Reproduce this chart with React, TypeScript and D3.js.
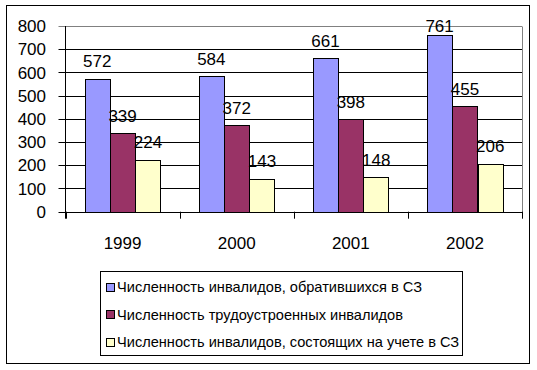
import React from "react";
import * as d3 from "d3";

const categories = ["1999", "2000", "2001", "2002"];
const seriesNames = [
  "Численность инвалидов, обратившихся в СЗ",
  "Численность трудоустроенных инвалидов",
  "Численность инвалидов, состоящих на учете в СЗ",
];
const seriesA = [572, 584, 661, 761];
const seriesB = [339, 372, 398, 455];
const seriesC = [224, 143, 148, 206];
const yTicks = [0, 100, 200, 300, 400, 500, 600, 700, 800];
const colors = ["#9999FF", "#993366", "#FFFFCC"];

const W = 537;
const H = 370;
const plot = { left: 65.5, right: 522, top: 26, bottom: 211.7 };
const FONT = "Arial, 'Liberation Sans', sans-serif";

export default function App() {
  const series = [seriesA, seriesB, seriesC];
  const x0 = d3
    .scaleBand<string>()
    .domain(categories)
    .range([plot.left, plot.right])
    .paddingInner(0)
    .paddingOuter(0);
  const bw = x0.bandwidth() / 4.5;
  const y = d3.scaleLinear().domain([0, 800]).range([plot.bottom, plot.top]);

  return (
    <svg
      width={W}
      height={H}
      style={{ position: "absolute", left: 0, top: 0, background: "#fff" }}
      fontFamily={FONT}
    >
      <rect x={6.5} y={5.5} width={523} height={358} fill="#fff" stroke="#000" strokeWidth={1} />
      {yTicks.map((t) => (
        <line
          key={"g" + t}
          x1={plot.left - 7}
          x2={plot.right}
          y1={Math.round(y(t)) + 0.5}
          y2={Math.round(y(t)) + 0.5}
          stroke={t === 800 ? "#808080" : "#000"}
          strokeWidth={1}
        />
      ))}
      <line x1={plot.right + 0.5} x2={plot.right + 0.5} y1={Math.round(y(800)) + 0.5} y2={Math.round(y(0)) + 0.5} stroke="#808080" />
      {yTicks.map((t) => (
        <text key={"yl" + t} x={46} y={y(t)} dy="0.36em" textAnchor="end" fontSize={17} fill="#000">
          {t}
        </text>
      ))}
      {categories.map((c, i) =>
        series.map((s, k) => {
          const bx = (x0(c) as number) + 0.75 * bw + k * bw;
          const by = y(s[i]);
          return (
            <rect
              key={c + k}
              x={Math.round(bx) + 0.5}
              y={Math.round(by) + 0.5}
              width={Math.round(bw)}
              height={Math.round(y(0)) - Math.round(by)}
              fill={colors[k]}
              stroke="#000"
              strokeWidth={1}
            />
          );
        })
      )}
      <line x1={plot.left} x2={plot.left} y1={plot.top} y2={plot.bottom + 7} stroke="#000" />
      <line x1={plot.left} x2={plot.right + 1} y1={Math.round(y(0)) + 0.5} y2={Math.round(y(0)) + 0.5} stroke="#000" />
      {categories.concat(["end"]).map((c, i) => {
        const xx = Math.round(plot.left + i * x0.bandwidth()) + 0.5;
        return <line key={"ct" + i} x1={xx} x2={xx} y1={plot.bottom} y2={plot.bottom + 7} stroke="#000" />;
      })}
      {categories.map((c, i) =>
        series.map((s, k) => {
          const cx = (x0(c) as number) + 0.75 * bw + k * bw + bw / 2;
          const ly = Math.max(y(s[i]) - 11.5, 32);
          return (
            <text key={"dl" + c + k} x={cx} y={ly} textAnchor="middle" fontSize={17} fill="#000">
              {s[i]}
            </text>
          );
        })
      )}
      {categories.map((c) => (
        <text key={"cl" + c} x={(x0(c) as number) + x0.bandwidth() / 2} y={249} textAnchor="middle" fontSize={17} fill="#000">
          {c}
        </text>
      ))}
      <rect x={100.5} y={271.5} width={362} height={84} fill="#fff" stroke="#000" />
      {seriesNames.map((n, k) => {
        const cy = 286.5 + k * 27.8;
        return (
          <g key={"lg" + k}>
            <rect x={106.5} y={Math.round(cy - 4) + 0.5} width={8} height={8} fill={colors[k]} stroke="#000" />
            <text x={117} y={cy} dy="0.36em" fontSize={14.6} fill="#000">
              {n}
            </text>
          </g>
        );
      })}
    </svg>
  );
}
